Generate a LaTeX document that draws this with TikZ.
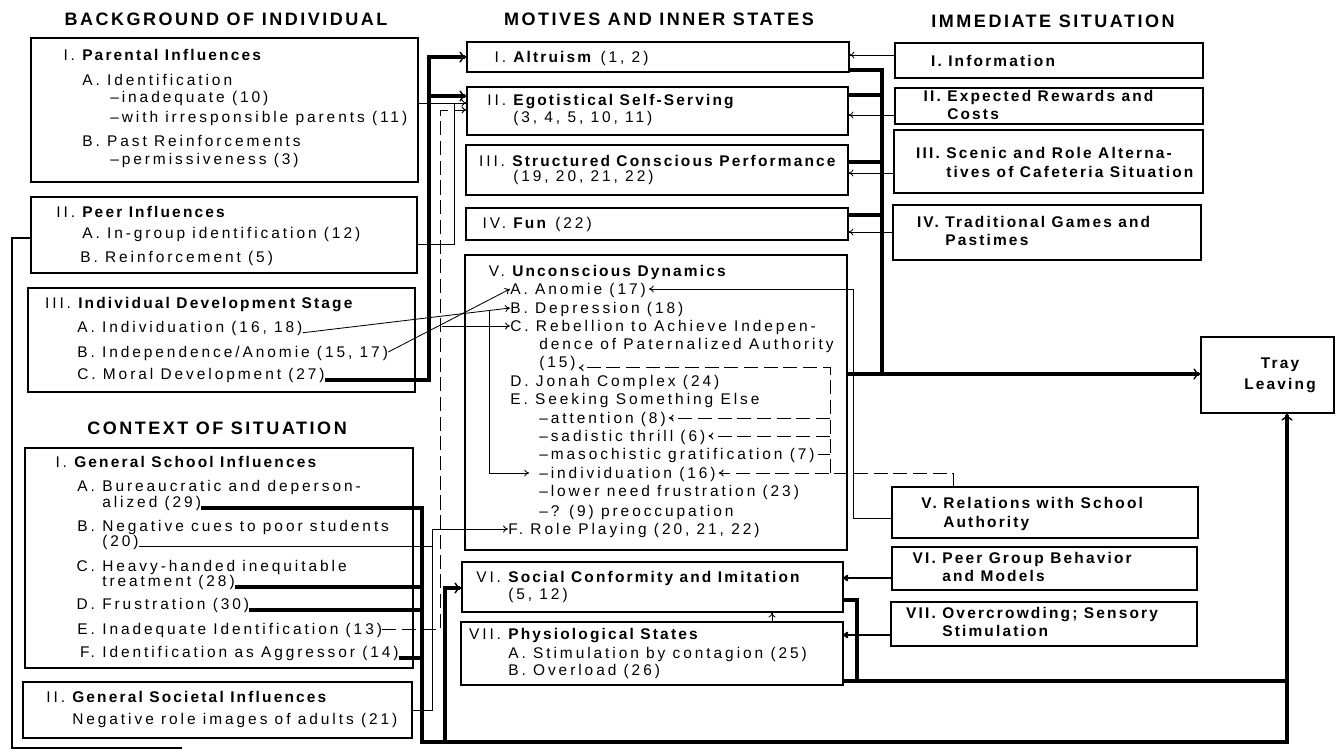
\documentclass[tikz,border=0pt]{standalone}
\usepackage{fontspec}
\setmainfont{Liberation Sans}[LetterSpace=19, BoldFeatures={LetterSpace=14}]
\usetikzlibrary{arrows.meta,fit,calc}

\begin{document}
\begin{tikzpicture}[x=0.025cm, y=-0.025cm, >={To[length=3.5pt,width=5pt]},
    every node/.style={inner sep=0pt},
    box/.style={draw, line width=0.8pt},
    txt/.style={anchor=west, text height=7.8pt, text depth=0pt, font=\fontsize{11}{12}\selectfont},
    rt/.style={txt, font=\fontsize{11}{12}\selectfont\bfseries},
    hd/.style={font=\fontsize{12.8}{14}\selectfont\bfseries},
    ln/.style={line width=0.6pt},
    mid/.style={line width=1.6pt},
    heavy/.style={line width=3pt},
    dsh/.style={line width=0.7pt, dash pattern=on 10pt off 4pt},
    bigtip/.style={-{To[length=5pt,width=8pt,line width=1pt]}}]
    \useasboundingbox (0,0) rectangle (1336,751);

    % 1. column headings
    \node[hd] (hBG) at (226,19) {BACKGROUND OF INDIVIDUAL};
    \node[hd] (hMO) at (659,19) {MOTIVES AND INNER STATES};
    \node[hd] (hIM) at (1053,21) {IMMEDIATE SITUATION};
    \node[hd] (hCS) at (217,428) {CONTEXT OF SITUATION};

    % 2. background of individual
    \node[box, fit={(31,38) (418,182)}] (bgI) {};
    \node[txt] (bgIt) at (82,55) {\llap{I.\ }\textbf{Parental Influences}};
    \node[txt] (bgIA) at (82,80) {A. Identification};
    \node[txt] (bgIA1) at (110,97) {--inadequate (10)};
    \node[txt] (bgIA2) at (110,117) {--with irresponsible parents (11)};
    \node[txt] (bgIB) at (82,141) {B. Past Reinforcements};
    \node[txt] (bgIB1) at (110,159) {--permissiveness (3)};

    \node[box, fit={(31,197) (417,273)}] (bgII) {};
    \node[txt] (bgIIt) at (82,212) {\llap{II.\ }\textbf{Peer Influences}};
    \node[txt] (bgIIA) at (82,233) {A. In-group identification (12)};
    \node[txt] (bgIIB) at (80,257) {B. Reinforcement (5)};

    \node[box, fit={(28,288) (415,392)}] (bgIII) {};
    \node[txt] (bgIIIt) at (78,303) {\llap{III.\ }\textbf{Individual Development Stage}};
    \node[txt] (bgIIIA) at (77,327) {A. Individuation (16, 18)};
    \node[txt] (bgIIIB) at (77,352) {B. Independence/Anomie (15, 17)};
    \node[txt] (bgIIIC) at (77,374) {C. Moral Development (27)};

    % 3. context of situation
    \node[box, fit={(25,448) (413,668)}] (csI) {};
    \node[txt] (csIt) at (74,462) {\llap{I.\ }\textbf{General School Influences}};
    \node[txt] (csIA) at (102,486) {\llap{A.\ }Bureaucratic and deperson-};
    \node[txt] (csIA2) at (102,502) {alized (29)};
    \node[txt] (csIB) at (102,526) {\llap{B.\ }Negative cues to poor students};
    \node[txt] (csIB2) at (102,541) {(20)};
    \node[txt] (csIC) at (102,566) {\llap{C.\ }Heavy-handed inequitable};
    \node[txt] (csIC2) at (102,581) {treatment (28)};
    \node[txt] (csID) at (102,604) {\llap{D.\ }Frustration (30)};
    \node[txt] (csIE) at (102,629) {\llap{E.\ }Inadequate Identification (13)};
    \node[txt] (csIF) at (102,652) {\llap{F.\ }Identification as Aggressor (14)};

    \node[box, fit={(23,682) (412,738)}] (csII) {};
    \node[txt] (csIIt) at (72,697) {\llap{II.\ }\textbf{General Societal Influences}};
    \node[txt] (csIIA) at (72,719) {Negative role images of adults (21)};

    % 4. motives and inner states
    \node[box, fit={(467,42) (849,72)}] (mI) {};
    \node[txt] (mIt) at (513,57) {\llap{I.\ }\textbf{Altruism} (1, 2)};
    \node[box, fit={(467,87) (848,135)}] (mII) {};
    \node[txt] (mIIt) at (513,100) {\llap{II.\ }\textbf{Egotistical Self-Serving}};
    \node[txt] (mIIa) at (513,117) {(3, 4, 5, 10, 11)};
    \node[box, fit={(466,145) (848,195)}] (mIII) {};
    \node[txt] (mIIIt) at (512,161) {\llap{III.\ }\textbf{Structured Conscious Performance}};
    \node[txt] (mIIIa) at (513,176) {(19, 20, 21, 22)};
    \node[box, fit={(466,208) (848,240)}] (mIV) {};
    \node[txt] (mIVt) at (513,223) {\llap{IV.\ }\textbf{Fun} (22)};

    \node[box, fit={(465,255) (847,550)}] (mV) {};
    \node[txt] (mVt) at (512,271) {\llap{V.\ }\textbf{Unconscious Dynamics}};
    \node[txt] (mVA) at (510,289) {A. Anomie (17)};
    \node[txt] (mVB) at (510,308) {B. Depression (18)};
    \node[txt] (mVC) at (510,326) {C. Rebellion to Achieve Indepen-};
    \node[txt] (mVC2) at (539,344) {dence of Paternalized Authority};
    \node[txt] (mVC3) at (539,362) {(15)};
    \node[txt] (mVD) at (510,381) {D. Jonah Complex (24)};
    \node[txt] (mVE) at (510,399) {E. Seeking Something Else};
    \node[txt] (mVE1) at (539,418) {--attention (8)};
    \node[txt] (mVE2) at (539,436) {--sadistic thrill (6)};
    \node[txt] (mVE3) at (539,454) {--masochistic gratification (7)};
    \node[txt] (mVE4) at (539,473) {--individuation (16)};
    \node[txt] (mVE5) at (539,491) {--lower need frustration (23)};
    \node[txt] (mVE6) at (539,511) {--? (9) preoccupation};
    \node[txt] (mVF) at (508,529) {F. Role Playing (20, 21, 22)};

    \node[box, fit={(462,562) (843,612)}] (mVI) {};
    \node[txt] (mVIt) at (508,577) {\llap{VI.\ }\textbf{Social Conformity and Imitation}};
    \node[txt] (mVIa) at (508,594) {(5, 12)};
    \node[box, fit={(461,622) (843,685)}] (mVII) {};
    \node[txt] (mVIIt) at (508,634) {\llap{VII.\ }\textbf{Physiological States}};
    \node[txt] (mVIIA) at (508,653) {A. Stimulation by contagion (25)};
    \node[txt] (mVIIB) at (508,670) {B. Overload (26)};

    % 5. immediate situation
    \node[box, fit={(895,43) (1203,78)}] (rI) {};
    \node[rt] (rIt) at (948,61) {\llap{I.\ }Information};
    \node[box, fit={(895,88) (1203,124)}] (rII) {};
    \node[rt] (rIIt) at (947,96) {\llap{II.\ }Expected Rewards and};
    \node[rt] (rIIa) at (947,114) {Costs};
    \node[box, fit={(894,130) (1203,193)}] (rIII) {};
    \node[rt] (rIIIt) at (946,153) {\llap{III.\ }Scenic and Role Alterna-};
    \node[rt] (rIIIa) at (946,172) {tives of Cafeteria Situation};
    \node[box, fit={(893,205) (1201,260)}] (rIV) {};
    \node[rt] (rIVt) at (945,222) {\llap{IV.\ }Traditional Games and};
    \node[rt] (rIVa) at (945,240) {Pastimes};
    \node[box, fit={(892,487) (1198,538)}] (rV) {};
    \node[rt] (rVt) at (943,503) {\llap{V.\ }Relations with School};
    \node[rt] (rVa) at (943,522) {Authority};
    \node[box, fit={(892,547) (1197,590)}] (rVI) {};
    \node[rt] (rVIt) at (942,558) {\llap{VI.\ }Peer Group Behavior};
    \node[rt] (rVIa) at (942,576) {and Models};
    \node[box, fit={(891,602) (1197,646)}] (rVII) {};
    \node[rt] (rVIIt) at (942,613) {\llap{VII.\ }Overcrowding; Sensory};
    \node[rt] (rVIIa) at (942,631) {Stimulation};

    \node[box, fit={(1201,337) (1334,413)}] (tray) {};
    \node[align=center, font=\fontsize{11}{15}\selectfont\bfseries] (trayt) at (1280,375) {Tray\\Leaving};

    % 6. background -> motives
    \draw[heavy,bigtip] (bgIIIC.south east) -| (429,57) -- (mI.west);
    \coordinate (bgBus) at (429,96);
    \draw[heavy,bigtip] (bgBus) -- (mII.west |- bgBus);
    \draw[ln,->] (bgI.east |- 0,103) -- (mII.west |- 0,103);
    \draw[ln] (bgII.east |- 0,244) -| (454,103);
    \draw[dsh,->] (csIE.east) -| (440,110) -- (mII.west |- 0,110);

    % development stage -> unconscious dynamics
    \draw[ln,->] (bgIIIA.south east) -- (mVB.west);
    \draw[ln,->] (bgIIIB.east) -- (mVA.west);
    \coordinate (rebJ) at ($(bgIIIB.east)!0.44!(mVA.west)$);
    \draw[ln,->] (mVC.west -| rebJ) -- (mVC.west);
    \coordinate (depJ) at ($(bgIIIA.south east)!0.9!(mVB.west)$);
    \draw[ln,->] (depJ) |- ([xshift=-7pt]mVE4.west);

    % 7. context -> role playing and tray leaving
    \draw[ln,->] (csIB2.south east) -| (432,529) -- (mVF.west);
    \draw[ln] (csII.east |- 0,710) -| (432,546);
    \draw[heavy,bigtip] (csIA2.south east) -| (422,742) -| (tray.south -| 1287,0);
    \draw[heavy] (csIC2.south east) -- (csIC2.south east -| 422,0);
    \draw[heavy] (csID.south east) -- (csID.south east -| 422,0);
    \draw[heavy] (csIF.south east) -- (csIF.south east -| 422,0);

    % peer influences -> social conformity
    \draw[line width=2pt] (bgII.west |- 0,238) -| (12,748) -- (182,748);
    \draw[heavy,bigtip] (445,742) |- (mVI.west |- 0,588);

    % 8. motives -> tray leaving
    \draw[heavy] (mI.east |- 0,70) -| (882,374);
    \draw[heavy] (mII.east |- 0,95) -- (882,95);
    \draw[heavy] (mIII.east |- 0,162) -- (882,162);
    \draw[heavy] (mIV.east |- 0,215) -- (882,215);
    \draw[heavy,bigtip] (mV.east |- 0,374) -- (tray.west |- 0,374);
    \draw[heavy] (mVI.east |- 0,600) -| (857,681) -- (1287,681);
    \draw[heavy] (mVII.east |- 0,681) -- (857,681);

    % 9. immediate situation -> motives
    \draw[ln,->] (rI.west |- 0,55) -- (mI.east |- 0,55);
    \draw[ln,->] (rII.west |- 0,115) -- (mII.east |- 0,115);
    \draw[ln,->] (rIII.west |- 0,173) -- (mIII.east |- 0,173);
    \draw[ln,->] (rIV.west |- 0,232) -- (mIV.east |- 0,232);
    \draw[ln,->] (rV.west |- 0,518) -| (mVA.east -| 853,0) -- ([xshift=2pt]mVA.east);
    \draw[mid,->] (rVI.west |- 0,578) -- (mVI.east |- 0,578);
    \draw[mid,->] (rVII.west |- 0,635) -- (mVII.east |- 0,635);
    \draw[ln,->] (mVII.north -| 772,0) -- (mVI.south -| 772,0);

    % 10. dashed feedback from school authority
    \draw[dsh,->] (rV.north -| 953,0) |- ([xshift=2pt]mVE4.east);
    \draw[dsh,->] (mVE4.east -| 830,0) |- ([xshift=2pt]mVC3.south east);
    \draw[dsh,->] (mVE1.east -| 830,0) -- ([xshift=2pt]mVE1.east);
    \draw[dsh,->] (mVE2.east -| 830,0) -- ([xshift=2pt]mVE2.east);
    \draw[dsh] (mVE3.east -| 830,0) -- ([xshift=2pt]mVE3.east);
\end{tikzpicture}
\end{document}
